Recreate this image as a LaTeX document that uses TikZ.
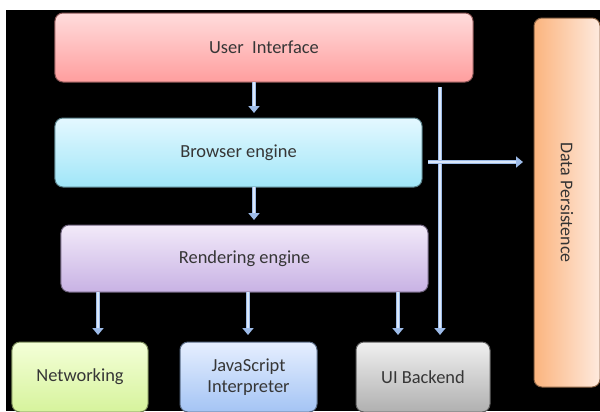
\documentclass[tikz,border=0pt]{standalone}
\usepackage{fontspec}
\setmainfont{Carlito}
\usetikzlibrary{arrows.meta,calc}
\definecolor{textgray}{HTML}{363636}
\definecolor{arrowblue}{HTML}{9DBBE8}
\definecolor{arrowlight}{HTML}{DCE8FA}
\definecolor{uitop}{HTML}{FFDCDC}
\definecolor{uibot}{HTML}{FF9E9E}
\definecolor{brtop}{HTML}{E4F8FF}
\definecolor{brbot}{HTML}{A0E6F8}
\definecolor{retop}{HTML}{F2EAF9}
\definecolor{rebot}{HTML}{C8B2E4}
\definecolor{nettop}{HTML}{F4FFD8}
\definecolor{netbot}{HTML}{D6F39C}
\definecolor{jstop}{HTML}{E6EFFF}
\definecolor{jsbot}{HTML}{A4C4F4}
\definecolor{ubtop}{HTML}{F0F0F0}
\definecolor{ubbot}{HTML}{B0B0B0}
\definecolor{dpleft}{HTML}{FBB47E}
\definecolor{dpright}{HTML}{FEEADE}
\newcommand\flowarrow[2]{%
  \draw[arr] (#1) -- (#2);
  \draw[hl] (#1) -- ($(#2)!7bp!(#1)$);}
\begin{document}
\begin{tikzpicture}[x=1bp,y=-1bp,
  box/.style={rounded corners=8bp, inner sep=0pt, outer sep=0pt,
    font=\fontsize{18.5}{21}\selectfont, text=textgray, line width=1bp, align=center},
  arr/.style={line width=4.5bp, draw=arrowblue, -{Triangle[width=11bp,length=7bp,fill=arrowblue]}},
  hl/.style={line width=1.5bp, draw=arrowlight}
]
\useasboundingbox (0,0) rectangle (600,411);
\clip (0,0) rectangle (600,411);
\fill[white] (0,0) rectangle (600,411);
\fill[black] (6,10) rectangle (600,411);

\node[box, minimum width=418bp, minimum height=69bp, top color=uitop, bottom color=uibot, draw=uibot!55!black]
  (ui) at (264,47.5) {User\ \ Interface};
\node[box, minimum width=367bp, minimum height=69bp, top color=brtop, bottom color=brbot, draw=brbot!55!black]
  (br) at (238.5,152.5) {Browser engine};
\node[box, minimum width=367bp, minimum height=67bp, top color=retop, bottom color=rebot, draw=rebot!55!black]
  (re) at (244.5,258.5) {Rendering engine};
\node[box, minimum width=136bp, minimum height=70bp, top color=nettop, bottom color=netbot, draw=netbot!55!black]
  (net) at (80,377) {Networking};
\node[box, minimum width=137bp, minimum height=70bp, top color=jstop, bottom color=jsbot, draw=jsbot!55!black,
  font=\fontsize{18.5}{21.5}\selectfont]
  (js) at (248.5,377) {JavaScript\\Interpreter};
\node[box, minimum width=134bp, minimum height=70bp, top color=ubtop, bottom color=ubbot, draw=ubbot!55!black]
  (ub) at (423,377) {UI Backend};
\node[box, minimum width=66bp, minimum height=369bp, left color=dpleft, right color=dpright, draw=dpleft!55!black,
  font=\fontsize{18}{20}\selectfont, text=black!80]
  (dp) at (567,202.5) {\rotatebox{-90}{Data Persistence}};

% column guides
\coordinate (c1) at (254,0);
\coordinate (c2) at (98,0);
\coordinate (c3) at (248,0);
\coordinate (c4) at (398,0);
\coordinate (c5) at (440,0);

\coordinate (a1s) at (ui.south -| c1);
\coordinate (a1e) at ([yshift=5bp]br.north -| c1);
\coordinate (a2s) at (br.south -| c1);
\coordinate (a2e) at ([yshift=5bp]re.north -| c1);
\coordinate (a3s) at (re.south -| c2);
\coordinate (a3e) at ([yshift=7bp]net.north -| c2);
\coordinate (a4s) at (re.south -| c3);
\coordinate (a4e) at ([yshift=7bp]js.north -| c3);
\coordinate (a5s) at (re.south -| c4);
\coordinate (a5e) at ([yshift=7bp]ub.north -| c4);
\coordinate (vtop) at (440,87);
\coordinate (a6e) at ([yshift=7bp]ub.north -| c5);
\coordinate (hs) at (428,162);
\coordinate (he) at ([xshift=-11bp]dp.west |- hs);

\flowarrow{a1s}{a1e}
\flowarrow{a2s}{a2e}
\flowarrow{a3s}{a3e}
\flowarrow{a4s}{a4e}
\flowarrow{a5s}{a5e}
\flowarrow{vtop}{a6e}
\flowarrow{hs}{he}
\end{tikzpicture}
\end{document}
